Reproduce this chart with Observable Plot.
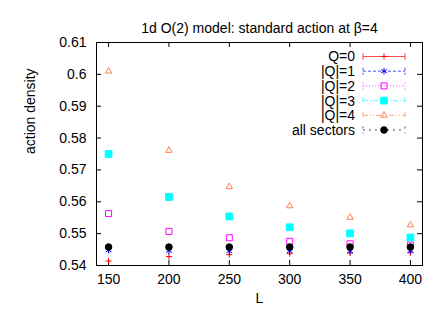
<!DOCTYPE html>
<html><head><meta charset="utf-8">
<script src="https://cdn.jsdelivr.net/npm/d3@7"></script>
<script src="https://cdn.jsdelivr.net/npm/@observablehq/plot@0.6"></script>
<style>
body{margin:0;background:#fff;}
svg{font-family:"Liberation Sans",Arial,Helvetica,sans-serif;}
</style>
</head><body><div id="chart"></div>
<script>
const Ls = [150, 200, 250, 300, 350, 400];
const q0 = [0.5414, 0.5428, 0.5434, 0.5437, 0.5439, 0.5440];
const q1 = [0.5448, 0.5446, 0.5445, 0.5445, 0.5445, 0.5446];
const q2 = [0.5563, 0.5507, 0.5487, 0.5476, 0.5468, 0.5464];
const q3 = [0.5750, 0.5615, 0.5554, 0.5520, 0.5501, 0.5488];
const q4 = [0.6010, 0.5761, 0.5647, 0.5587, 0.5551, 0.5527];
const qall = [0.5458, 0.5458, 0.5458, 0.5458, 0.5458, 0.5458];
const seriesNames = ["Q=0", "|Q|=1", "|Q|=2", "|Q|=3", "|Q|=4", "all sectors"];
const xTicks = [150, 200, 250, 300, 350, 400];
const yTicks = [0.54, 0.55, 0.56, 0.57, 0.58, 0.59, 0.6, 0.61];
const titleText = "1d O(2) model: standard action at β=4";
const xLabel = "L";
const yLabel = "action density";

const styles = [
  {color: "#ff0000", symbol: "plus", r: 2.1, fill: "none", dash: null},
  {color: "#0000ff", symbol: "asterisk", r: 3.1, fill: "none", dash: "3,2"},
  {color: "#ff00ff", symbol: "square", r: 3.4, fill: "none", dash: "1,2"},
  {color: "#00ffff", symbol: "square", r: 3.8, fill: "#00ffff", dash: "5,2,1,2"},
  {color: "#ff7f50", symbol: "triangle", r: 2.4, fill: "none", dash: "5,2,1,2,1,2"},
  {color: "#000000", symbol: "circle", r: 3.3, fill: "#000000", dash: "2,4"}
];
const allSeries = [q0, q1, q2, q3, q4, qall];

const dotMarks = allSeries.map((vals, i) => {
  const s = styles[i];
  const data = Ls.map((L, j) => ({L, v: vals[j]}));
  return Plot.dot(data, {
    x: "L", y: "v", symbol: () => s.symbol, r: s.r,
    stroke: s.color, fill: s.fill, strokeWidth: 1
  });
});

const W = 444, H = 312, mL = 96, mR = 22, mT = 42, mB = 47;
const fw = W - mL - mR, fh = H - mT - mB, tk = 5;

const chart = Plot.plot({
  width: W, height: H,
  marginLeft: mL, marginRight: mR, marginTop: mT, marginBottom: mB,
  style: {fontFamily: '"Liberation Sans", Arial, sans-serif', fontSize: "14px", background: "#fff", color: "#000"},
  x: {domain: [140, 410]},
  y: {domain: [0.54, 0.61]},
  marks: [
    Plot.axisX(xTicks, {tickSize: 0, tickPadding: 9, fontSize: 14, label: null, tickFormat: d => String(d)}),
    Plot.axisY(yTicks, {tickSize: 0, tickPadding: 10, fontSize: 14, label: null, tickFormat: d => String(d)}),
    Plot.tickX(xTicks, {x: d => d, insetTop: fh - tk, stroke: "#000"}),
    Plot.tickX(xTicks, {x: d => d, insetBottom: fh - tk, stroke: "#000"}),
    Plot.tickY(yTicks, {y: d => d, insetRight: fw - tk, stroke: "#000"}),
    Plot.tickY(yTicks, {y: d => d, insetLeft: fw - tk, stroke: "#000"}),
    ...dotMarks,
    Plot.frame({stroke: "#000", strokeWidth: 1}),
    Plot.text([titleText], {frameAnchor: "top", dy: -19.5, text: d => d, fontSize: 14, fill: "#000"}),
    Plot.text([xLabel], {frameAnchor: "bottom", dy: 37, text: d => d, fontSize: 14, fill: "#000"}),
    Plot.text([yLabel], {frameAnchor: "left", dx: -66, rotate: -90, text: d => d, fontSize: 14, fill: "#000"})
  ]
});

// legend (top-right, inside frame)
const svg = d3.select(chart);
const lg = svg.append("g").attr("class", "legend");
const textRight = 355, lx1 = 363, lx2 = 405, lmid = 384, row0 = 56.5, rowStep = 14.7;
const symMap = {plus: d3.symbolPlus, asterisk: d3.symbolAsterisk, square: d3.symbolSquare, triangle: d3.symbolTriangle, circle: d3.symbolCircle};
seriesNames.forEach((name, i) => {
  const s = styles[i];
  const y = row0 + i * rowStep;
  lg.append("text").attr("x", textRight).attr("y", y).attr("text-anchor", "end")
    .attr("dy", "0.35em").attr("font-size", 14).attr("fill", "#000").text(name);
  const line = lg.append("line").attr("x1", lx1).attr("x2", lx2).attr("y1", y).attr("y2", y)
    .attr("stroke", s.color).attr("stroke-width", 1).attr("stroke-opacity", 0.7);
  if (s.dash) line.attr("stroke-dasharray", s.dash);
  [lx1, lx2].forEach(x => {
    const cap = lg.append("line").attr("x1", x).attr("x2", x).attr("y1", y - 3.5).attr("y2", y + 3.5)
      .attr("stroke", s.color).attr("stroke-width", 1).attr("stroke-opacity", 0.7);
    if (s.dash) cap.attr("stroke-dasharray", s.dash);
  });
  lg.append("path").attr("transform", `translate(${lmid},${y})`)
    .attr("d", d3.symbol(symMap[s.symbol], Math.PI * s.r * s.r)())
    .attr("stroke", s.color).attr("fill", s.fill).attr("stroke-width", 1);
});

document.getElementById("chart").appendChild(chart);
</script>
</body></html>
